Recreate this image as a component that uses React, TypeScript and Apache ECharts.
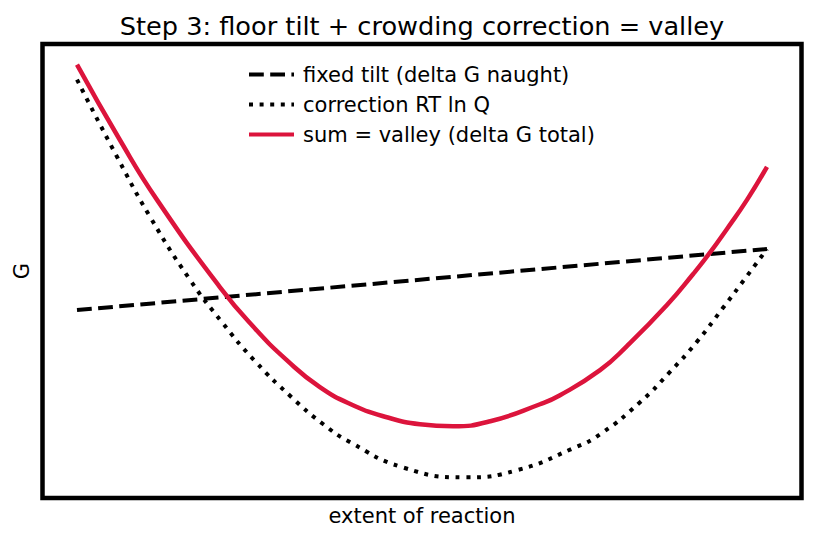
import React, { useEffect, useRef } from "react";
import * as echarts from "echarts";

// Reaction extent (0 = all reactants, 1 = all products) and free energy G in arbitrary units
const tiltExtent = [0, 1];
const tiltG = [0.18, 0.79];

const correctionExtent = [
  0, 0.058, 0.106, 0.164, 0.21, 0.258, 0.311, 0.357, 0.396, 0.472,
  0.562, 0.637, 0.719, 0.758, 0.816, 0.859, 0.898, 0.936, 0.971, 1,
];
const correctionG = [
  2.48, 1.71, 1.11, 0.48, 0.06, -0.33, -0.69, -0.96, -1.14, -1.39,
  -1.49, -1.42, -1.2, -1.06, -0.74, -0.44, -0.14, 0.2, 0.52, 0.79,
];

const totalExtent = [
  0, 0.062, 0.116, 0.207, 0.256, 0.304, 0.352, 0.4, 0.449, 0.497, 0.545, 0.599,
  0.671, 0.7, 0.758, 0.797, 0.855, 0.893, 0.917, 0.942, 0.971, 1,
];
const totalG = [
  2.63, 1.88, 1.28, 0.41, 0.01, -0.32, -0.59, -0.77, -0.89, -0.96, -0.98, -0.93,
  -0.76, -0.67, -0.42, -0.18, 0.23, 0.54, 0.75, 0.99, 1.28, 1.61,
];

const seriesNames = ["fixed tilt (delta G naught)", "correction RT ln Q", "sum = valley (delta G total)"];

const FONT = "DejaVu Sans";
const RED = "#DC143C";

const pairs = (xs: number[], ys: number[]) => xs.map((x, i) => [x, ys[i]]);

export default function App() {
  const ref = useRef<HTMLDivElement>(null);

  useEffect(() => {
    if (!ref.current) return;
    const chart = echarts.init(ref.current, null, { renderer: "svg" });

    const all = [...tiltG, ...correctionG, ...totalG];
    const lo = Math.min(...all);
    const hi = Math.max(...all);
    const pad = (hi - lo) * 0.05;

    const hiddenAxis = {
      axisLine: { show: false },
      axisTick: { show: false },
      axisLabel: { show: false },
      splitLine: { show: false },
    };

    chart.setOption({
      animation: false,
      backgroundColor: "#fff",
      title: {
        text: "Step 3: floor tilt + crowding correction = valley",
        left: 422,
        textAlign: "center",
        top: 13,
        padding: 0,
        textStyle: { fontFamily: FONT, fontSize: 25.6, fontWeight: "normal", color: "#000" },
      },
      legend: {
        orient: "vertical",
        left: 242,
        top: 59,
        itemWidth: 45,
        itemHeight: 14,
        itemGap: 9,
        selectedMode: false,
        data: seriesNames,
        // line-only legend keys: hide the marker dot, keep each series' dash pattern
        itemStyle: { color: "transparent", borderWidth: 0, opacity: 0 },
        lineStyle: { width: 4, type: "inherit", cap: "butt" },
        textStyle: {
          fontFamily: FONT,
          fontSize: 21,
          lineHeight: 21,
          color: "#000",
          padding: [0, 0, 0, 4],
        },
      },
      grid: {
        left: 42.5,
        top: 44,
        width: 759,
        height: 454,
        show: true,
        borderColor: "#000",
        borderWidth: 4.5,
        backgroundColor: "transparent",
      },
      xAxis: {
        type: "value",
        min: -0.05,
        max: 1.05,
        name: "extent of reaction",
        nameLocation: "middle",
        nameGap: 7,
        nameTextStyle: { fontFamily: FONT, fontSize: 21, color: "#000", verticalAlign: "top" },
        ...hiddenAxis,
      },
      yAxis: {
        type: "value",
        min: lo - pad,
        max: hi + pad,
        name: "G",
        nameLocation: "middle",
        nameGap: 10,
        nameTextStyle: { fontFamily: FONT, fontSize: 21, color: "#000" },
        ...hiddenAxis,
      },
      series: [
        {
          name: seriesNames[0],
          type: "line",
          data: pairs(tiltExtent, tiltG),
          showSymbol: false,
          symbol: "none",
          lineStyle: { color: "#000", width: 4, type: [14.8, 6.4], cap: "butt" },
          itemStyle: { color: "#000" },
          z: 2,
        },
        {
          name: seriesNames[1],
          type: "line",
          data: pairs(correctionExtent, correctionG),
          smooth: 0.5,
          showSymbol: false,
          symbol: "none",
          lineStyle: { color: "#000", width: 4, type: [4, 6.6], cap: "butt" },
          itemStyle: { color: "#000" },
          z: 3,
        },
        {
          name: seriesNames[2],
          type: "line",
          data: pairs(totalExtent, totalG),
          smooth: 0.5,
          showSymbol: false,
          symbol: "none",
          lineStyle: { color: RED, width: 4.5 },
          itemStyle: { color: RED },
          z: 4,
        },
      ],
    });

    return () => chart.dispose();
  }, []);

  return (
    <div
      ref={ref}
      style={{ position: "fixed", left: 0, top: 0, width: 815, height: 540, background: "#fff" }}
    />
  );
}
